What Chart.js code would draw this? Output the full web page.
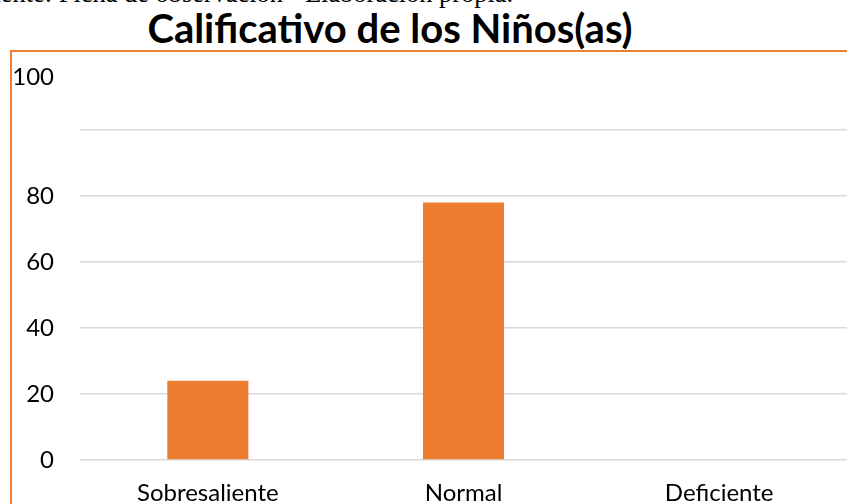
<!DOCTYPE html>
<html>
<head>
<meta charset="utf-8">
<script src="https://cdn.jsdelivr.net/npm/chart.js"></script>
<style>
  html, body { margin: 0; padding: 0; background: #fff; overflow: hidden; }
  #wrap { position: relative; width: 847px; height: 504px; overflow: hidden; }
  #src { position: absolute; left: -27px; top: -20px; font-family: "Liberation Serif", "DejaVu Serif", serif; font-size: 26.4px; line-height: 26px; color: #000; white-space: nowrap; }
  #title { position: absolute; left: 0; width: 780px; top: 8px; text-align: center; font-family: Lato, sans-serif; font-weight: bold; font-size: 40px; line-height: 40px; color: #000; white-space: nowrap; }
  #frame { position: absolute; left: 10px; top: 50px; width: 900px; height: 600px; border-left: 2.5px solid #ED7D31; border-top: 2.5px solid #ED7D31; }
  #cv { position: absolute; left: 0; top: 0; }
</style>
</head>
<body>
<div id="wrap">
  <div id="src">Fuente: Ficha de observación - Elaboración propia.</div>
  <div id="title">Calificativo de los Niños(as)</div>
  <div id="frame"></div>
  <canvas id="cv" width="847" height="504"></canvas>
</div>
<script>
const categories = ["Sobresaliente", "Normal", "Deficiente"];
const values = [24, 78, 0];
const yTicks = [0, 20, 40, 60, 80, 100];

const ctx = document.getElementById('cv').getContext('2d');
new Chart(ctx, {
  type: 'bar',
  data: {
    labels: categories,
    datasets: [{
      data: values,
      backgroundColor: '#ED7D31',
      borderWidth: 0,
      barPercentage: 0.317,
      categoryPercentage: 1.0
    }]
  },
  options: {
    responsive: false,
    animation: false,
    layout: { padding: { left: 10, right: 0, top: 130, bottom: 0 } },
    plugins: {
      legend: { display: false },
      tooltip: { enabled: false },
      title: { display: false }
    },
    scales: {
      x: {
        grid: { display: false, drawTicks: false },
        border: { display: false },
        ticks: { color: '#000', font: { family: 'Lato', size: 24 }, padding: 19, maxRotation: 0, autoSkip: false },
        afterFit: (s) => { s.height = 44; }
      },
      y: {
        min: 0, max: 100,
        afterBuildTicks: (s) => { s.ticks = yTicks.map(v => ({ value: v })); },
        grid: { color: '#D9D9D9', lineWidth: 1.5, drawTicks: false },
        border: { display: false },
        ticks: {
          color: '#000',
          autoSkip: false,
          font: { family: 'Lato', size: 24, lineHeight: 1.1 },
          padding: 26,
          callback: (v) => v === 100 ? ['100', '', '', '', ''] : String(v)
        },
        afterFit: (s) => { s.width = 70; }
      }
    }
  }
});
</script>
</body>
</html>
